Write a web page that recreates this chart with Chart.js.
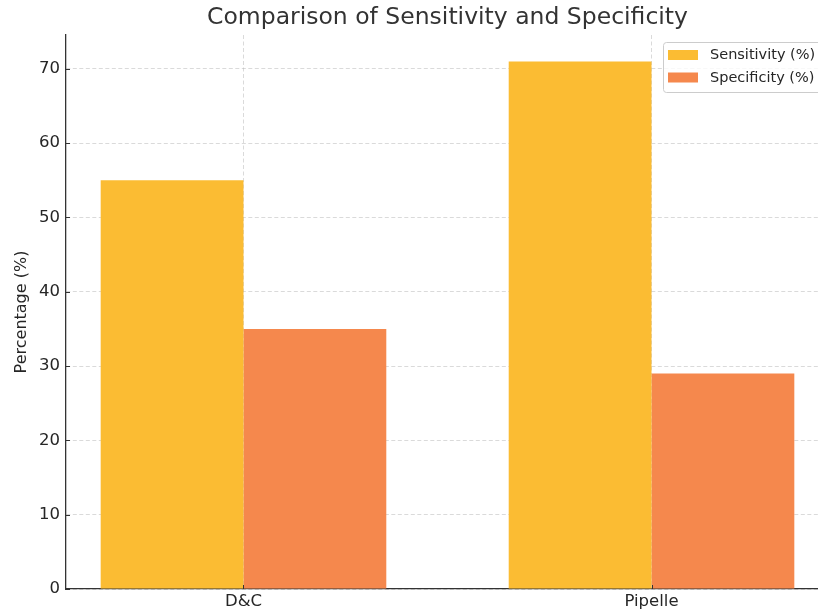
<!DOCTYPE html>
<html>
<head>
<meta charset="utf-8">
<script src="https://cdn.jsdelivr.net/npm/chart.js@4/dist/chart.umd.min.js"></script>
<style>
  html, body { margin: 0; padding: 0; background: #fff; overflow: hidden; width: 818px; height: 613px; }
  #wrap { width: 829px; height: 613px; position: relative; }
</style>
</head>
<body>
<div id="wrap"><canvas id="c" width="829" height="613"></canvas></div>
<script>
const categories = ['D&C', 'Pipelle'];
const seriesNames = ['Sensitivity (%)', 'Specificity (%)'];
const sensitivity = [55, 71];
const specificity = [35, 29];
const yTicks = [0, 10, 20, 30, 40, 50, 60, 70];
const titleText = 'Comparison of Sensitivity and Specificity';
const yLabel = 'Percentage (%)';

const colors = ['#FBBC33', '#F5884D'];
const FONT = "'DejaVu Sans', sans-serif";
const TEXT = '#262626';

const toPoints = arr => arr.map((v, i) => ({ x: i, y: v }));

const titlePlugin = {
  id: 'mplTitle',
  afterDraw(chart) {
    const { ctx, chartArea } = chart;
    ctx.save();
    ctx.font = "23.5px " + FONT;
    ctx.fillStyle = '#333';
    ctx.textAlign = 'center';
    ctx.textBaseline = 'middle';
    ctx.fillText(titleText, (chartArea.left + chartArea.right) / 2, 18);
    ctx.restore();
  }
};

const tickPlugin = {
  id: 'innerTicks',
  afterDraw(chart) {
    const { ctx, chartArea, scales } = chart;
    ctx.save();
    ctx.strokeStyle = '#333';
    ctx.lineWidth = 1;
    yTicks.forEach(v => {
      const y = Math.round(scales.y.getPixelForValue(v)) + 0.5;
      ctx.beginPath(); ctx.moveTo(chartArea.left, y); ctx.lineTo(chartArea.left + 4, y); ctx.stroke();
    });
    categories.forEach((c, i) => {
      const x = Math.round(scales.x.getPixelForValue(i)) + 0.5;
      ctx.beginPath(); ctx.moveTo(x, chartArea.bottom); ctx.lineTo(x, chartArea.bottom - 4); ctx.stroke();
    });
    ctx.restore();
  }
};

const legendPlugin = {
  id: 'mplLegend',
  afterDraw(chart) {
    const { ctx, chartArea } = chart;
    const fs = 14.5;
    const boxRight = chartArea.right - 7;
    const boxTop = chartArea.top + 7;
    const boxW = 159, boxH = 50;
    const boxLeft = boxRight - boxW;
    ctx.save();
    ctx.beginPath();
    if (ctx.roundRect) ctx.roundRect(boxLeft + 0.5, boxTop + 0.5, boxW, boxH, 3);
    else ctx.rect(boxLeft + 0.5, boxTop + 0.5, boxW, boxH);
    ctx.fillStyle = 'rgba(255,255,255,0.8)';
    ctx.fill();
    ctx.strokeStyle = '#cccccc';
    ctx.lineWidth = 1;
    ctx.stroke();
    ctx.font = fs + "px " + FONT;
    ctx.textBaseline = 'middle';
    ctx.textAlign = 'left';
    chart.data.datasets.forEach((ds, i) => {
      const cy = boxTop + 13 + i * 22.5;
      ctx.fillStyle = ds.backgroundColor;
      ctx.fillRect(boxLeft + 5, cy - 5, 30, 10);
      ctx.fillStyle = TEXT;
      ctx.fillText(ds.label, boxLeft + 47, cy + 0.5);
    });
    ctx.restore();
  }
};

new Chart(document.getElementById('c'), {
  type: 'bar',
  data: {
    datasets: [
      { label: seriesNames[0], data: toPoints(sensitivity), backgroundColor: colors[0], borderWidth: 0 },
      { label: seriesNames[1], data: toPoints(specificity), backgroundColor: colors[1], borderWidth: 0 }
    ]
  },
  options: {
    responsive: false,
    animation: false,
    devicePixelRatio: 1,
    categoryPercentage: 0.7,
    barPercentage: 1.0,
    layout: { padding: { top: 35, right: 0, left: 0, bottom: 0 } },
    plugins: {
      legend: { display: false },
      title: { display: false },
      tooltip: { enabled: false }
    },
    scales: {
      x: {
        type: 'linear',
        offset: false,
        min: -0.435,
        max: 1.435,
        afterBuildTicks(scale) { scale.ticks = categories.map((c, i) => ({ value: i })); },
        afterFit(scale) { scale.height = 24; },
        ticks: {
          callback: v => categories[v],
          font: { family: FONT, size: 16.5 },
          color: TEXT,
          padding: 3,
          maxRotation: 0,
          autoSkip: false
        },
        grid: { offset: false, color: 'rgba(176,176,176,0.6)', lineWidth: 0.8, drawTicks: false },
        border: { display: true, color: '#333', width: 1.3, dash: [4, 2.5] }
      },
      y: {
        min: 0,
        max: 74.55,
        afterBuildTicks(scale) { scale.ticks = yTicks.map(v => ({ value: v })); },
        afterFit(scale) { scale.width = 66; },
        ticks: {
          font: { family: FONT, size: 16.5 },
          color: TEXT,
          padding: 6
        },
        title: {
          display: true,
          text: yLabel,
          font: { family: FONT, size: 16 },
          color: TEXT,
          padding: { top: 12, bottom: 0 }
        },
        grid: { color: 'rgba(176,176,176,0.6)', lineWidth: 0.8, drawTicks: false },
        border: { display: true, color: '#333', width: 1.3, dash: [4, 2.5] }
      }
    }
  },
  plugins: [titlePlugin, tickPlugin, legendPlugin]
});
</script>
</body>
</html>
